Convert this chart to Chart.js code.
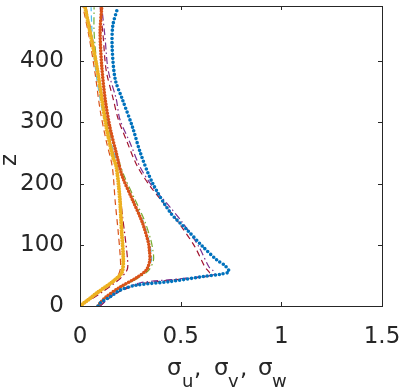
<!DOCTYPE html>
<html>
<head>
<meta charset="utf-8">
<script src="https://cdn.jsdelivr.net/npm/chart.js@4"></script>
<style>
  html, body { margin: 0; padding: 0; background: #fff; }
  canvas { display: block; }
</style>
</head>
<body>
<canvas id="sigma-chart" width="400" height="389"></canvas>
<script>
// Measured profiles (dotted) - sigma values and heights z
var uSigma = [0.09, 0.10, 0.15, 0.20, 0.28, 0.45, 0.61, 0.70, 0.74, 0.72, 0.68, 0.61, 0.53, 0.45, 0.36, 0.30, 0.26, 0.21, 0.175, 0.16, 0.163, 0.188];
var uZ     = [0, 5, 15, 26, 34, 40, 48, 52, 56, 66, 75, 97, 125, 152, 201, 250, 293, 338, 370, 420, 458, 488];

var vSigma = [0.09, 0.10, 0.13, 0.20, 0.28, 0.33, 0.347, 0.345, 0.34, 0.31, 0.26, 0.21, 0.18, 0.148, 0.125, 0.108, 0.10, 0.108];
var vZ     = [0, 5, 15, 31, 46, 59, 75, 90, 103, 136, 174, 212, 250, 293, 338, 392, 447, 488];

var wSigma = [0, 0.04, 0.083, 0.163, 0.207, 0.215, 0.207, 0.198, 0.18, 0.163, 0.13, 0.108, 0.083, 0.05, 0.025];
var wZ     = [0, 10, 21, 40, 54, 75, 120, 174, 228, 244, 293, 338, 392, 447, 488];

// Model profiles (dashed / dash-dot)
var uModelASigma = [0.10, 0.15, 0.20, 0.30, 0.45, 0.60, 0.67, 0.66, 0.64, 0.59, 0.51, 0.446, 0.36, 0.297, 0.248, 0.198, 0.18, 0.14, 0.124, 0.108];
var uModelAZ     = [0, 15, 26, 38, 43, 48, 52, 58, 64, 97, 136, 162, 195, 228, 267, 305, 338, 385, 440, 488];

var uModelBSigma = [0.10, 0.15, 0.20, 0.30, 0.45, 0.60, 0.65, 0.64, 0.62, 0.57, 0.49, 0.43, 0.35, 0.285, 0.235, 0.19, 0.165, 0.13, 0.115, 0.10];
var uModelBZ     = [0, 14, 24, 36, 42, 47, 50, 56, 64, 97, 136, 162, 195, 228, 267, 305, 338, 385, 440, 488];

var vModelASigma = [0.09, 0.13, 0.20, 0.28, 0.34, 0.365, 0.36, 0.35, 0.32, 0.27, 0.22, 0.18, 0.14, 0.11, 0.085, 0.07, 0.07];
var vModelAZ     = [0, 15, 30, 44, 58, 75, 95, 110, 140, 176, 212, 250, 293, 338, 392, 447, 488];

var vModelBSigma = [0.09, 0.13, 0.20, 0.28, 0.33, 0.355, 0.35, 0.34, 0.31, 0.26, 0.21, 0.17, 0.13, 0.10, 0.075, 0.06, 0.055];
var vModelBZ     = [0, 15, 30, 45, 58, 75, 95, 110, 140, 176, 212, 250, 293, 338, 392, 447, 488];

var wModelASigma = [0, 0.06, 0.12, 0.20, 0.235, 0.235, 0.225, 0.21, 0.20, 0.18, 0.15, 0.12, 0.09, 0.06, 0.03];
var wModelAZ     = [0, 12, 25, 45, 60, 80, 110, 150, 180, 228, 270, 320, 380, 440, 488];

var wModelBSigma = [0, 0.06, 0.12, 0.18, 0.20, 0.20, 0.19, 0.175, 0.16, 0.13, 0.10, 0.075, 0.045, 0.015];
var wModelBZ     = [0, 14, 28, 45, 60, 80, 120, 170, 228, 270, 320, 380, 440, 488];

// Axis ticks
var xTicks = [0, 0.5, 1, 1.5];
var yTicks = [0, 100, 200, 300, 400];

var textColor = '#262626';
var fontName = '"DejaVu Sans", sans-serif';

// Pair up sigma and z arrays into points
function toPoints(xs, zs) {
  return xs.map(function (x, i) { return { x: x, y: zs[i] }; });
}

function dotted(label, xs, zs, color, width, gap) {
  return {
    label: label,
    data: toPoints(xs, zs),
    borderColor: color,
    borderWidth: width,
    borderDash: [0, gap],
    borderCapStyle: 'round',
    pointRadius: 0,
    tension: 0.3,
    showLine: true,
    fill: false
  };
}

function dashed(label, xs, zs, color, dash) {
  return {
    label: label,
    data: toPoints(xs, zs),
    borderColor: color,
    borderWidth: 1.2,
    borderDash: dash,
    pointRadius: 0,
    tension: 0.3,
    showLine: true,
    fill: false
  };
}

var dashDot = [7, 3, 1.5, 3];
var dash = [6, 4];

var datasets = [
  dotted('u', uSigma, uZ, '#0072BD', 3.6, 4),
  dotted('v', vSigma, vZ, '#D95319', 3.6, 3),
  dotted('w', wSigma, wZ, '#EDB120', 4, 2.6),
  dashed('u model A', uModelASigma, uModelAZ, '#7E2F8E', dashDot),
  dashed('u model B', uModelBSigma, uModelBZ, '#A2142F', dash),
  dashed('v model A', vModelASigma, vModelAZ, '#77AC30', dashDot),
  dashed('v model B', vModelBSigma, vModelBZ, '#4DBEEE', dash),
  dashed('w model A', wModelASigma, wModelAZ, '#A2142F', dashDot),
  dashed('w model B', wModelBSigma, wModelBZ, '#D95319', dash)
];

// Box with inward ticks and axis titles (MATLAB style)
var boxPlugin = {
  id: 'boxPlugin',
  afterDraw: function (chart) {
    var c = chart.ctx;
    var a = chart.chartArea;
    var xs = chart.scales.x;
    var ys = chart.scales.y;
    var tl = 4;
    c.save();
    c.strokeStyle = textColor;
    c.lineWidth = 1;
    c.strokeRect(Math.round(a.left) + 0.5, Math.round(a.top) + 0.5,
      Math.round(a.right - a.left), Math.round(a.bottom - a.top));
    c.beginPath();
    xTicks.forEach(function (v) {
      var px = Math.round(xs.getPixelForValue(v)) + 0.5;
      c.moveTo(px, a.bottom); c.lineTo(px, a.bottom - tl);
      c.moveTo(px, a.top); c.lineTo(px, a.top + tl);
    });
    yTicks.forEach(function (v) {
      var py = Math.round(ys.getPixelForValue(v)) + 0.5;
      c.moveTo(a.left, py); c.lineTo(a.left + tl, py);
      c.moveTo(a.right, py); c.lineTo(a.right - tl, py);
    });
    c.stroke();

    // x title: sigma with subscripts (TeX-like spacing)
    var big = '23px ' + fontName;
    var small = '18px ' + fontName;
    var parts = [
      ['\u03C3', big, 0, 0], ['u', small, 1, 15], [',', big, 0, 27],
      ['\u03C3', big, 0, 47], ['v', small, 1, 61], [',', big, 0, 73],
      ['\u03C3', big, 0, 91], ['w', small, 1, 105]
    ];
    var start = (a.left + a.right) / 2 - 64;
    var base = 375;
    c.fillStyle = textColor;
    c.textBaseline = 'alphabetic';
    c.textAlign = 'left';
    parts.forEach(function (p) {
      c.font = p[1];
      c.fillText(p[0], start + p[3], p[2] ? base + 12 : base);
    });

    // y title
    c.translate(16, 160);
    c.rotate(-Math.PI / 2);
    c.font = '23px ' + fontName;
    c.textAlign = 'center';
    c.textBaseline = 'alphabetic';
    c.fillText('z', 0, 0);
    c.restore();
  }
};

function fixedTicks(values) {
  return function (scale) {
    scale.ticks = values.map(function (v) { return { value: v }; });
  };
}

var ctx = document.getElementById('sigma-chart').getContext('2d');
var sigmaChart = new Chart(ctx, {
  type: 'scatter',
  data: { datasets: datasets },
  plugins: [boxPlugin],
  options: {
    responsive: false,
    animation: false,
    devicePixelRatio: 1,
    layout: { padding: { top: 6, right: 18, left: 0, bottom: 0 } },
    plugins: {
      legend: { display: false },
      tooltip: { enabled: false }
    },
    scales: {
      x: {
        type: 'linear',
        min: 0,
        max: 1.5,
        grid: { display: false },
        border: { display: false },
        afterBuildTicks: fixedTicks(xTicks),
        ticks: {
          color: textColor,
          font: { family: fontName, size: 23 },
          padding: 9,
          maxRotation: 0,
          callback: function (v) { return String(v); }
        },
        afterFit: function (scale) {
          scale.height = 83;
          scale.paddingLeft = 0;
          scale.paddingRight = 0;
        }
      },
      y: {
        type: 'linear',
        min: 0,
        max: 490,
        grid: { display: false },
        border: { display: false },
        afterBuildTicks: fixedTicks(yTicks),
        ticks: {
          color: textColor,
          font: { family: fontName, size: 23 },
          padding: 8,
          callback: function (v) { return String(v); }
        },
        afterFit: function (scale) {
          scale.width = 80;
          scale.paddingTop = 0;
          scale.paddingBottom = 0;
        }
      }
    }
  }
});
</script>
</body>
</html>
